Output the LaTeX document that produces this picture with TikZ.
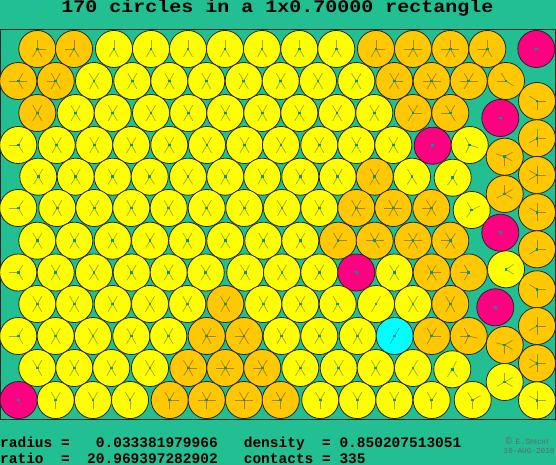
\documentclass[tikz,border=0pt]{standalone}
\usepackage{fontspec}
\setmonofont{Liberation Mono}
\usetikzlibrary{calc}
\definecolor{bg}{RGB}{33,191,145}
\definecolor{col1}{RGB}{255,255,0}
\definecolor{col2}{RGB}{255,200,0}
\definecolor{col3}{RGB}{255,0,128}
\definecolor{col4}{RGB}{0,255,255}
\definecolor{dotc}{RGB}{0,150,160}
\tikzset{
 disc/.style={circle, draw=black!85, line width=0.8pt, minimum size=37.06pt, inner sep=0pt, outer sep=0pt},
 contact/.style={draw=black, draw opacity=0.35, line width=0.7pt},
 cdot/.style={fill=dotc, inner sep=0pt, minimum size=2.6pt, rectangle},
 label/.style={inner sep=0pt, anchor=base west, text=black},
}
\newcommand\circdata{%
37.3/49/2,74/49/2,114/49/1,151/49/1,188/49/1,225/49/1,262/49/1,299.3/49/1,336.3/49/1,376/49/2,413/49/2,450.3/49/2,487.3/49/2,%
18.3/81/2,55.7/81/2,94/81/1,132.3/81/1,169.3/81/1,206.3/81/1,243.7/81/1,280.7/81/1,318/81/1,356.3/81/1,394.3/81/2,431.7/81/2,468.7/81/2,506/81/2,%
37.3/113/2,75.7/113/1,112.7/113/1,151/113/1,188.3/113/1,225.3/113/1,262.3/113/1,299.3/113/1,337/113/1,374.3/113/1,413/113/2,450.3/113/2,%
18.3/145/1,56.7/145/1,94.3/145/1,131.3/145/1,169.3/145/1,207/145/1,244.7/145/1,281/145/1,319.3/145/1,356.3/145/1,393.3/145/1,432.7/145.7/3,469.7/145/1,%
38.3/176.7/1,75.7/176.7/1,112.7/176.7/1,149.7/176.7/1,188/176.7/1,225.3/176.7/1,262.3/176.7/1,300.3/176.7/1,337.7/176.7/1,374.7/176.7/2,412/176.7/1,452.7/177.7/1,%
18.3/208/1,57.3/208/1,94.3/208/1,131.3/208/1,168.7/208/1,206.7/208/1,244.3/208/1,282/208/1,319.3/208/1,356.3/208/2,393.3/208/2,431.3/208/2,471.7/210/1,%
37.3/240.7/1,74.3/240.7/1,112.7/240.7/1,150/240.7/1,187.3/240.7/1,225.3/240.7/1,263.3/240.7/1,300.3/240.7/1,338/240.7/2,374.7/240.7/2,413/240.7/2,450.3/240.7/2,%
18.3/272.5/1,55.7/272.5/1,94/272.5/1,131.7/272.5/1,168.7/272.5/1,205.7/272.5/1,245.3/272.5/1,282/272.5/1,319.3/272.5/1,356.3/272.5/3,394.3/272.5/1,431.7/272.5/2,468.7/272.5/2,506/269.3/1,%
37.3/304/1,74.3/304/1,112.7/304/1,150/304/1,187.3/304/1,225.3/304/2,263.3/304/1,300.3/304/1,337.7/304/1,376/304/1,413/304/1,450.3/304/2,%
18.3/336/1,55.7/336/1,93/336/1,131.3/336/1,168.3/336/1,206.7/336/2,244/336/2,281.7/336/1,319.3/336/1,357.7/336/1,394.7/336/4,431.7/336/2,468.7/336/2,%
37.3/368/1,74.3/368/1,111.3/368/1,150/368/1,188.3/368/2,225.3/368/2,262.3/368/2,300.3/368/1,338.7/368/1,375.7/368/1,413/368/1,452.3/369.3/1,%
18.7/400/3,55.7/400/1,93/400/1,130/400/1,169.7/400/2,206.7/400/2,244/400/2,280.7/400/2,320.3/400/1,357.3/400/1,394.3/400/1,431.7/400/1,472.7/400/1,%
536.3/49/3,537/101/2,500.3/118/3,504.7/156.7/2,537/138.3/2,504.7/194/2,537/175/2,537/212.3/2,500.3/232.7/3,537/249.3/2,537/289.3/2,495.3/307.3/3,537/326/2,504.7/345/2,537/363.3/2,504.7/382/1,537/400.3/1}

\begin{document}
\begin{tikzpicture}[x=1pt,y=-1pt]
\useasboundingbox (0,0) rectangle (556,465);
\fill[bg] (0,0) rectangle (556,465);
\draw[line width=1pt, draw=black!85] (0.5,30) rectangle (555.5,419);
% circles
\foreach \x/\y/\c [count=\i] in \circdata {\node[disc, fill=col\c] (c\i) at (\x,\y) {};}
% contacts
\foreach \xa/\ya/\ca [count=\i] in \circdata {
  \ifnum\ca<3
    \ifdim\xa pt<20.6pt \draw[contact] (c\i.center) -- ++(-9,0);\fi
    \ifdim\xa pt>534.4pt \draw[contact] (c\i.center) -- ++(9,0);\fi
    \ifdim\ya pt<50.6pt \draw[contact] (c\i.center) -- ++(0,-9);\fi
    \ifdim\ya pt>398.4pt \draw[contact] (c\i.center) -- ++(0,9);\fi
    \foreach \xb/\yb/\cb [count=\j] in \circdata {
      \def\ok{0}%
      \ifnum\j>\i \ifnum\cb<3
        \edef\dx{\number\numexpr\dimexpr\xa pt-\xb pt\relax/256\relax}%
        \edef\dy{\number\numexpr\dimexpr\ya pt-\yb pt\relax/256\relax}%
        \ifnum\dx<0 \edef\dx{\number-\dx}\fi
        \ifnum\dy<0 \edef\dy{\number-\dy}\fi
        \ifnum\dx<10240 \ifnum\dy<10240
          \edef\dd{\number\numexpr\dx*\dx+\dy*\dy\relax}%
          \ifnum\dd<99680256
            \ifnum\dy<1280
              \ifnum\ca=2 \ifnum\cb=2 \def\ok{1}\fi\fi
            \else
              \def\ok{1}%
            \fi
          \fi
        \fi\fi
      \fi\fi
      \ifnum\ok=1
        \draw[contact] (c\i.center) -- ($(c\i.center)!9pt!(c\j.center)$);
        \draw[contact] (c\j.center) -- ($(c\j.center)!9pt!(c\i.center)$);
      \fi
    }
  \fi
}
% the cyan circle's two contacts
\draw[contact] (c126.center) -- ($(c126.center)!9pt!(c114.center)$);
\draw[contact] (c114.center) -- ($(c114.center)!9pt!(c126.center)$);
\draw[contact] (c126.center) -- ($(c126.center)!9pt!(c138.center)$);
\draw[contact] (c138.center) -- ($(c138.center)!9pt!(c126.center)$);
% centre dots
\foreach \x/\y/\c [count=\i] in \circdata {\node[cdot] (d\i) at (c\i.center) {};}
% texts
\node[inner sep=0pt, anchor=base, font=\ttfamily\bfseries\fontsize{20}{20}\selectfont] (title) at (277.5,13) {\scalebox{1}[0.88]{170 circles in a 1x0.70000 rectangle}};
\node[label, font=\ttfamily\bfseries\fontsize{14.5}{14.5}\selectfont] (l1) at (0,447) {radius~=~~~0.033381979966~~~density~~=~0.850207513051};
\node[label, font=\ttfamily\bfseries\fontsize{14.5}{14.5}\selectfont] (l2) at (0,463) {ratio~~=~~20.969397282902~~~contacts~=~335};
\node[label, text=black!60, font=\ttfamily\fontsize{8}{8}\selectfont] (cp) at (505.5,444.5) {{\fontsize{10}{10}\selectfont ©}\hspace{4pt}E.S{\fontsize{6.5}{6.5}\selectfont PECHT}};
\node[label, text=black!60, font=\ttfamily\fontsize{7.7}{7.7}\selectfont] (dt) at (503.5,453.8) {10-AUG-2010};
\end{tikzpicture}
\end{document}
